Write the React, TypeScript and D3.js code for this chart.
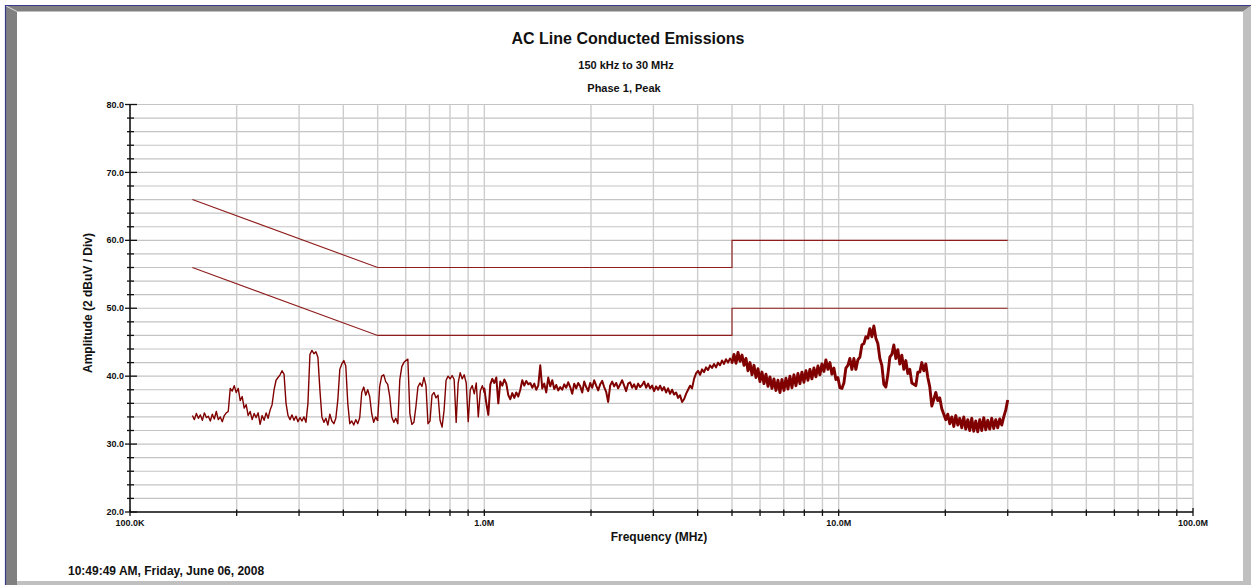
import React from "react";
import * as d3 from "d3";

// ---------- Data ----------
const TITLE = "AC Line Conducted Emissions";
const SUBTITLE1 = "150 kHz to 30 MHz";
const SUBTITLE2 = "Phase 1, Peak";
const X_LABEL = "Frequency (MHz)";
const Y_LABEL = "Amplitude (2 dBuV / Div)";
const TIMESTAMP = "10:49:49 AM, Friday, June 06, 2008";

const yTickValues = [20, 30, 40, 50, 60, 70, 80];
const yTickLabels = ["20.0", "30.0", "40.0", "50.0", "60.0", "70.0", "80.0"];
const xDecades = [0.1, 1, 10, 100];
const xDecadeLabels = ["100.0K", "1.0M", "10.0M", "100.0M"];

// Limit lines [MHz, dBuV]
const quasiPeakLimit: [number, number][] = [[0.15, 66], [0.5, 56], [5, 56], [5, 60], [30, 60]];
const averageLimit: [number, number][] = [[0.15, 56], [0.5, 46], [5, 46], [5, 50], [30, 50]];

const band1Range: [number, number] = [0.15, 0.5];
const band1 = [
  34.2, 33.6, 34.5, 33.8, 34.3, 33.5, 34.6, 33.9, 34.1, 33.4, 34.4, 33.7, 34.8, 33.6, 34.0, 33.3, 34.2, 34.6,
  34.8, 38.2, 37.8, 38.6, 37.6, 38.2, 36.4, 37.0, 35.3, 35.8, 34.2, 34.8, 33.6, 34.5, 33.9, 34.6, 32.9, 34.2,
  33.5, 34.6, 33.8, 35.0, 35.8, 38.0, 39.4, 39.8, 40.2, 40.8, 40.3, 36.0, 34.2, 33.6, 34.3, 33.5, 34.1, 33.3,
  33.9, 33.4, 34.0, 33.2, 36.0, 43.2, 43.8, 43.3, 43.6, 42.8, 38.0, 34.0, 33.2, 33.8, 32.8, 34.4, 33.4, 33.0,
  33.8, 36.5, 41.0, 41.8, 42.3, 41.5, 36.0, 33.0, 33.4, 32.8, 33.6, 33.0, 33.9, 37.6, 38.4, 37.2, 38.0, 37.0,
  34.5, 33.2, 34.0, 33.4,
];
const band2Range: [number, number] = [0.5, 1.0];
const band2 = [
  33.6, 38.5, 40.0, 40.2, 39.2, 38.8, 37.0, 34.0, 33.2, 33.8, 33.0, 39.5, 41.4, 42.0, 42.3, 42.5, 34.5, 32.9,
  33.2, 35.5, 38.4, 39.0, 38.5, 39.8, 38.6, 33.0, 33.4, 37.2, 37.6, 36.8, 37.2, 33.5, 32.5, 35.0, 39.4, 40.0,
  39.6, 40.1, 39.5, 33.2, 39.0, 40.5, 39.6, 40.2, 39.0, 33.3, 38.0, 38.6, 37.4, 39.0, 34.0, 37.8, 38.6, 37.6,
];
const band3Range: [number, number] = [1.0, 5.0];
const band3 = [
  38.2, 36.0, 34.3, 38.8, 39.6, 39.0, 39.8, 36.0, 39.2, 38.6, 39.5, 38.9, 37.2, 36.6, 37.5, 36.8, 37.6, 37.0,
  38.0, 39.4, 38.6, 39.3, 38.8, 39.0, 38.3, 38.9, 38.0, 38.6, 41.6, 38.2, 38.9, 37.6, 39.8, 38.5, 39.4, 38.1,
  38.7, 37.9, 38.4, 38.0, 38.8, 38.3, 39.1, 38.4, 37.4, 38.9, 38.2, 39.0, 38.5, 37.6, 39.2, 38.4, 37.8, 39.0,
  38.3, 39.4, 38.6, 37.9, 38.8, 39.3, 38.4, 37.7, 36.2, 38.6, 39.2, 38.5, 39.0, 38.2, 38.8, 39.4, 38.6, 37.8,
  38.9, 39.1, 38.3, 38.8, 38.1, 38.9, 38.4, 38.7, 39.2, 38.3, 38.9, 38.2, 38.6, 37.8, 38.5, 38.0, 38.6, 37.9,
  38.4, 37.6, 38.2, 37.4, 38.0, 37.3, 37.6, 36.8, 37.2, 36.2, 36.6, 37.4, 38.0, 38.6, 38.2, 39.6, 40.4, 40.8,
  40.2, 41.0, 40.6, 41.3, 40.9, 41.6, 41.2, 41.8, 41.3, 42.0, 41.6, 42.3, 41.8, 42.5, 42.0, 42.6, 42.2,
];
const band4Range: [number, number] = [5.0, 30.0];
const band4 = [
  42.0, 43.2, 41.9, 43.5, 42.2, 43.1, 41.6, 42.6, 40.8, 42.0, 40.2, 41.6, 39.8, 41.1, 39.2, 40.6, 38.9, 40.3,
  38.5, 39.9, 38.2, 39.6, 37.9, 39.4, 37.6, 39.5, 37.9, 39.7, 38.1, 40.0, 38.3, 40.2, 38.6, 40.4, 38.9, 40.6,
  39.1, 40.8, 39.4, 41.0, 39.6, 41.2, 39.9, 41.5, 40.2, 41.8, 40.7, 42.4, 41.0, 42.0, 40.3, 41.2, 39.5, 39.8,
  38.3, 38.2, 39.0, 41.2, 41.6, 42.6, 41.0, 42.6, 41.0, 42.4, 42.8, 44.6, 44.8, 45.8, 45.6, 47.0, 45.8, 47.4,
  45.6, 44.8, 42.6, 41.6, 38.8, 38.4, 40.2, 42.8, 43.2, 44.6, 42.6, 43.9, 41.8, 43.1, 41.0, 42.3, 40.4, 41.0,
  39.0, 38.8, 38.6, 40.6, 40.6, 42.0, 40.8, 41.8, 39.8, 38.4, 35.6, 36.6, 37.6, 36.4, 36.8, 35.2, 34.4, 33.6,
  34.4, 33.0, 34.0, 32.6, 34.2, 32.8, 33.8, 32.4, 34.0, 32.2, 33.6, 32.0, 33.8, 31.9, 33.4, 31.8, 33.6, 32.0,
  33.9, 32.1, 33.5, 32.2, 33.8, 32.3, 33.6, 32.4, 33.7, 32.8, 34.0, 35.0, 36.5,
];
const traceBands: { range: [number, number]; values: number[]; width: number }[] = [
  { range: band1Range, values: band1, width: 1.4 },
  { range: band2Range, values: band2, width: 1.4 },
  { range: band3Range, values: band3, width: 2.0 },
  { range: band4Range, values: band4, width: 2.9 },
];

// ---------- Layout ----------
const W = 1251;
const H = 585;
const PLOT = { left: 130, right: 1193, top: 104.5, bottom: 512 };
const TRACE_COLOR = "#800000";
const LIMIT_COLOR = "#8f1d1d";
const FONT = "'Liberation Sans', Arial, sans-serif";

export default function App() {
  const x = d3.scaleLog().domain([0.1, 100]).range([PLOT.left, PLOT.right]);
  const y = d3.scaleLinear().domain([20, 80]).range([PLOT.bottom, PLOT.top]);

  const line = d3
    .line<[number, number]>()
    .x((d) => x(d[0]))
    .y((d) => y(d[1]));

  // sweep grid for each band (log-spaced frequency points)
  let prev: [number, number] | null = null;
  const bandPaths = traceBands.map(({ range, values, width }) => {
    const n = values.length;
    const fs = d3.scaleLinear().domain([0, n - 1]).range([Math.log10(range[0]), Math.log10(range[1])]);
    const pts: [number, number][] = values.map((v, i) => [Math.pow(10, fs(i)), v]);
    const all = prev ? [prev, ...pts] : pts;
    prev = pts[pts.length - 1];
    return { d: line(all) || "", width };
  });

  // minor log ticks
  const xMinor: number[] = [];
  [0.1, 1, 10].forEach((dec) => {
    for (let m = 2; m <= 9; m++) xMinor.push(dec * m);
  });
  const xAllTicks = [...xMinor, ...xDecades];
  const yMinor = d3.range(20, 80.001, 2);

  return (
    <svg
      width={W}
      height={H}
      style={{ position: "fixed", left: 0, top: 0, background: "#fff" }}
      fontFamily={FONT}
    >
      <rect x={0} y={0} width={W} height={H} fill="#fff" />
      {/* frame bevel */}
      <polygon points={`6,6 ${W},6 1243,11.5 17,11.5`} fill="#808080" />
      <polygon points={`6,6 17,11.5 17,${H} 6,${H}`} fill="#808080" />
      <line x1={6} y1={6} x2={17} y2={11.5} stroke="#d8d8d8" strokeWidth={1} />
      <polygon points={`1243,11.5 ${W},6 ${W},${H} 1243,${H}`} fill="#c0c0c0" />
      <polygon points={`17,581 1243,581 1243,${H} 17,${H}`} fill="#c0c0c0" />
      <line x1={5} y1={5.5} x2={W} y2={5.5} stroke="#3a3a8a" strokeWidth={1.2} />
      <line x1={5.5} y1={5} x2={5.5} y2={H} stroke="#3a3a8a" strokeWidth={1.2} />

      {/* titles */}
      <text x={628} y={44} textAnchor="middle" fontSize={16} fontWeight="bold" fill="#111">
        {TITLE}
      </text>
      <text x={626} y={69} textAnchor="middle" fontSize={11} fontWeight="bold" fill="#111">
        {SUBTITLE1}
      </text>
      <text x={624} y={92} textAnchor="middle" fontSize={11} fontWeight="bold" fill="#111">
        {SUBTITLE2}
      </text>

      {/* grid */}
      <g>
        {yMinor.map((v) => (
          <line key={`hg${v}`} x1={PLOT.left} x2={PLOT.right} y1={y(v)} y2={y(v)} stroke="#c4c4c4" strokeWidth={1.1} />
        ))}
        {xAllTicks.map((f) => (
          <line key={`vg${f}`} x1={x(f)} x2={x(f)} y1={PLOT.top} y2={PLOT.bottom} stroke="#cdcdcd" strokeWidth={1.4} />
        ))}
      </g>

      {/* limit lines */}
      <path d={line(quasiPeakLimit) || ""} fill="none" stroke={LIMIT_COLOR} strokeWidth={1.1} />
      <path d={line(averageLimit) || ""} fill="none" stroke={LIMIT_COLOR} strokeWidth={1.1} />

      {/* trace */}
      {bandPaths.map((b, i) => (
        <path key={`tr${i}`} d={b.d} fill="none" stroke={TRACE_COLOR} strokeWidth={b.width} strokeLinejoin="round" />
      ))}

      {/* axes */}
      <line x1={PLOT.left} x2={PLOT.left} y1={PLOT.top} y2={PLOT.bottom} stroke="#111" strokeWidth={1.5} />
      <line x1={PLOT.left} x2={PLOT.right} y1={PLOT.bottom} y2={PLOT.bottom} stroke="#111" strokeWidth={1.5} />
      {yMinor.map((v) => {
        const major = v % 10 === 0;
        return (
          <line
            key={`yt${v}`}
            x1={major ? PLOT.left - 5 : PLOT.left - 3}
            x2={major ? PLOT.left + 7 : PLOT.left + 4}
            y1={y(v)}
            y2={y(v)}
            stroke="#111"
            strokeWidth={1.3}
          />
        );
      })}
      {yTickValues.map((v, i) => (
        <text key={`yl${v}`} x={PLOT.left - 6} y={y(v)} dy="0.35em" textAnchor="end" fontSize={9} fontWeight="bold" fill="#111">
          {yTickLabels[i]}
        </text>
      ))}
      {xAllTicks.map((f) => (
        <line
          key={`xt${f}`}
          x1={x(f)}
          x2={x(f)}
          y1={f === 100 ? PLOT.bottom - 4 : PLOT.bottom - 2.5}
          y2={PLOT.bottom + 4}
          stroke="#111"
          strokeWidth={1.3}
        />
      ))}
      {xDecades.map((f, i) => (
        <text key={`xl${f}`} x={x(f)} y={PLOT.bottom + 14} textAnchor="middle" fontSize={9} fontWeight="bold" fill="#111">
          {xDecadeLabels[i]}
        </text>
      ))}

      <text x={659} y={541} textAnchor="middle" fontSize={12} fontWeight="bold" fill="#111">
        {X_LABEL}
      </text>
      <text
        transform={`translate(92, 303) rotate(-90)`}
        textAnchor="middle"
        fontSize={12}
        fontWeight="bold"
        fill="#111"
      >
        {Y_LABEL}
      </text>
      <text x={68} y={575} fontSize={12} fontWeight="bold" fill="#111">
        {TIMESTAMP}
      </text>
    </svg>
  );
}
